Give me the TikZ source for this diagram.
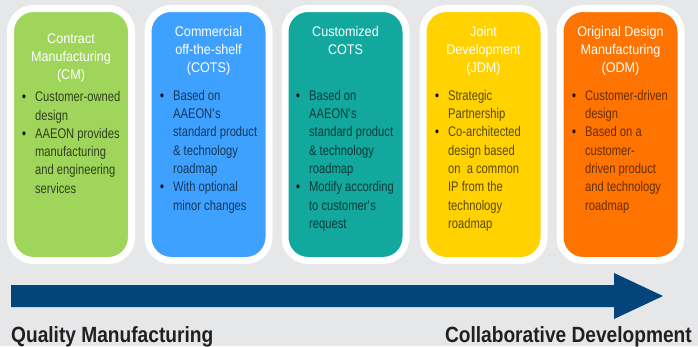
\documentclass[tikz,border=0pt]{standalone}
\usepackage{fontspec}
\setmainfont{Liberation Sans}
\newfontfamily\titlefont[FakeStretch=0.9]{Liberation Sans}
\newfontfamily\bodyfont[FakeStretch=0.8]{Liberation Sans}
\newfontfamily\tagfont[FakeStretch=0.87]{Liberation Sans}
\usetikzlibrary{positioning}
\definecolor{bggray}{HTML}{E6E7E8}
\definecolor{cmgreen}{HTML}{A0D55C}
\definecolor{cotsblue}{HTML}{3EA1FF}
\definecolor{custteal}{HTML}{13A89E}
\definecolor{jdmyellow}{HTML}{FFD200}
\definecolor{odmorange}{HTML}{FF7300}
\definecolor{arrownavy}{HTML}{03447B}
\definecolor{tagdark}{HTML}{231F20}
\newcommand{\bul}{\textcolor{black}{\textbullet}}
\newcommand{\aps}{\textquotesingle}

\begin{document}
\begin{tikzpicture}[x=1pt,y=-1pt,
    card/.style={draw=white,line width=7pt,rounded corners=23pt,minimum width=121pt,minimum height=252pt,inner sep=0pt},
    heading/.style={anchor=north,inner sep=0pt,text=white,font=\titlefont\fontsize{14}{18.2}\selectfont},
    bullets/.style={anchor=north west,inner sep=0pt,font=\bodyfont\fontsize{14}{18.3}\selectfont},
    tag/.style={inner sep=0pt,text=tagdark,font=\tagfont\bfseries\fontsize{22}{26}\selectfont}]
      \fill[bggray] (0,0) rectangle (698,346);
      % the five cards
      \node[card,fill=cmgreen] (cm) at (71,134.5) {};
      \node[card,fill=cotsblue] (cots) at (208.5,134.5) {};
      \node[card,fill=custteal] (ccots) at (345.5,134.5) {};
      \node[card,fill=jdmyellow] (jdm) at (483.5,134.5) {};
      \node[card,fill=odmorange] (odm) at (620.5,134.5) {};
      % headings
      \node[heading] (cmtitle) at (71,30.5) {\begin{tabular}{@{}c@{}}Contract\\Manufacturing\\(CM)\end{tabular}};
      \node[heading] (cotstitle) at (208.5,23.3) {\begin{tabular}{@{}c@{}}Commercial\\off-the-shelf\\(COTS)\end{tabular}};
      \node[heading] (ccotstitle) at (345.5,23.3) {\begin{tabular}{@{}c@{}}Customized\\COTS\end{tabular}};
      \node[heading] (jdmtitle) at (483.5,23.3) {\begin{tabular}{@{}c@{}}Joint\\Development\\(JDM)\end{tabular}};
      \node[heading] (odmtitle) at (620.5,23.3) {\begin{tabular}{@{}c@{}}Original Design\\Manufacturing\\(ODM)\end{tabular}};
      % bullet lists
      \node[bullets,text=cmgreen!30!black] (cmlist) at (22,88.7) {\begin{tabular}{@{}l@{\hspace{9pt}}l@{}}
        \bul & Customer-owned\\ & design\\
        \bul & AAEON provides\\ & manufacturing\\ & and engineering\\ & services\end{tabular}};
      \node[bullets,text=cotsblue!35!black] (cotslist) at (160,87.2) {\begin{tabular}{@{}l@{\hspace{9pt}}l@{}}
        \bul & Based on\\ & AAEON\aps s\\ & standard product\\ & \& technology\\ & roadmap\\
        \bul & With optional\\ & minor changes\end{tabular}};
      \node[bullets,text=custteal!35!black] (ccotslist) at (296,87.2) {\begin{tabular}{@{}l@{\hspace{9pt}}l@{}}
        \bul & Based on\\ & AAEON\aps s\\ & standard product\\ & \& technology\\ & roadmap\\
        \bul & Modify according\\ & to customer\aps s\\ & request\end{tabular}};
      \node[bullets,text=jdmyellow!35!black] (jdmlist) at (435,87.2) {\begin{tabular}{@{}l@{\hspace{9pt}}l@{}}
        \bul & Strategic\\ & Partnership\\
        \bul & Co-architected\\ & design based\\ & on~ a common\\ & IP from the\\ & technology\\ & roadmap\end{tabular}};
      \node[bullets,text=odmorange!40!black] (odmlist) at (572,87.2) {\begin{tabular}{@{}l@{\hspace{9pt}}l@{}}
        \bul & Customer-driven\\ & design\\
        \bul & Based on a\\ & customer-\\ & driven product\\ & and technology\\ & roadmap\end{tabular}};
      % the long arrow
      \fill[arrownavy] (11,285) -- (614,285) -- (614,273) -- (663,296) -- (614,319) -- (614,307) -- (11,307) -- cycle;
      \node[tag,anchor=base west] (quality) at (11,342.3) {Quality Manufacturing};
      \node[tag,anchor=base east] (collab) at (692,342.3) {Collaborative Development};
    \end{tikzpicture}
\end{document}
